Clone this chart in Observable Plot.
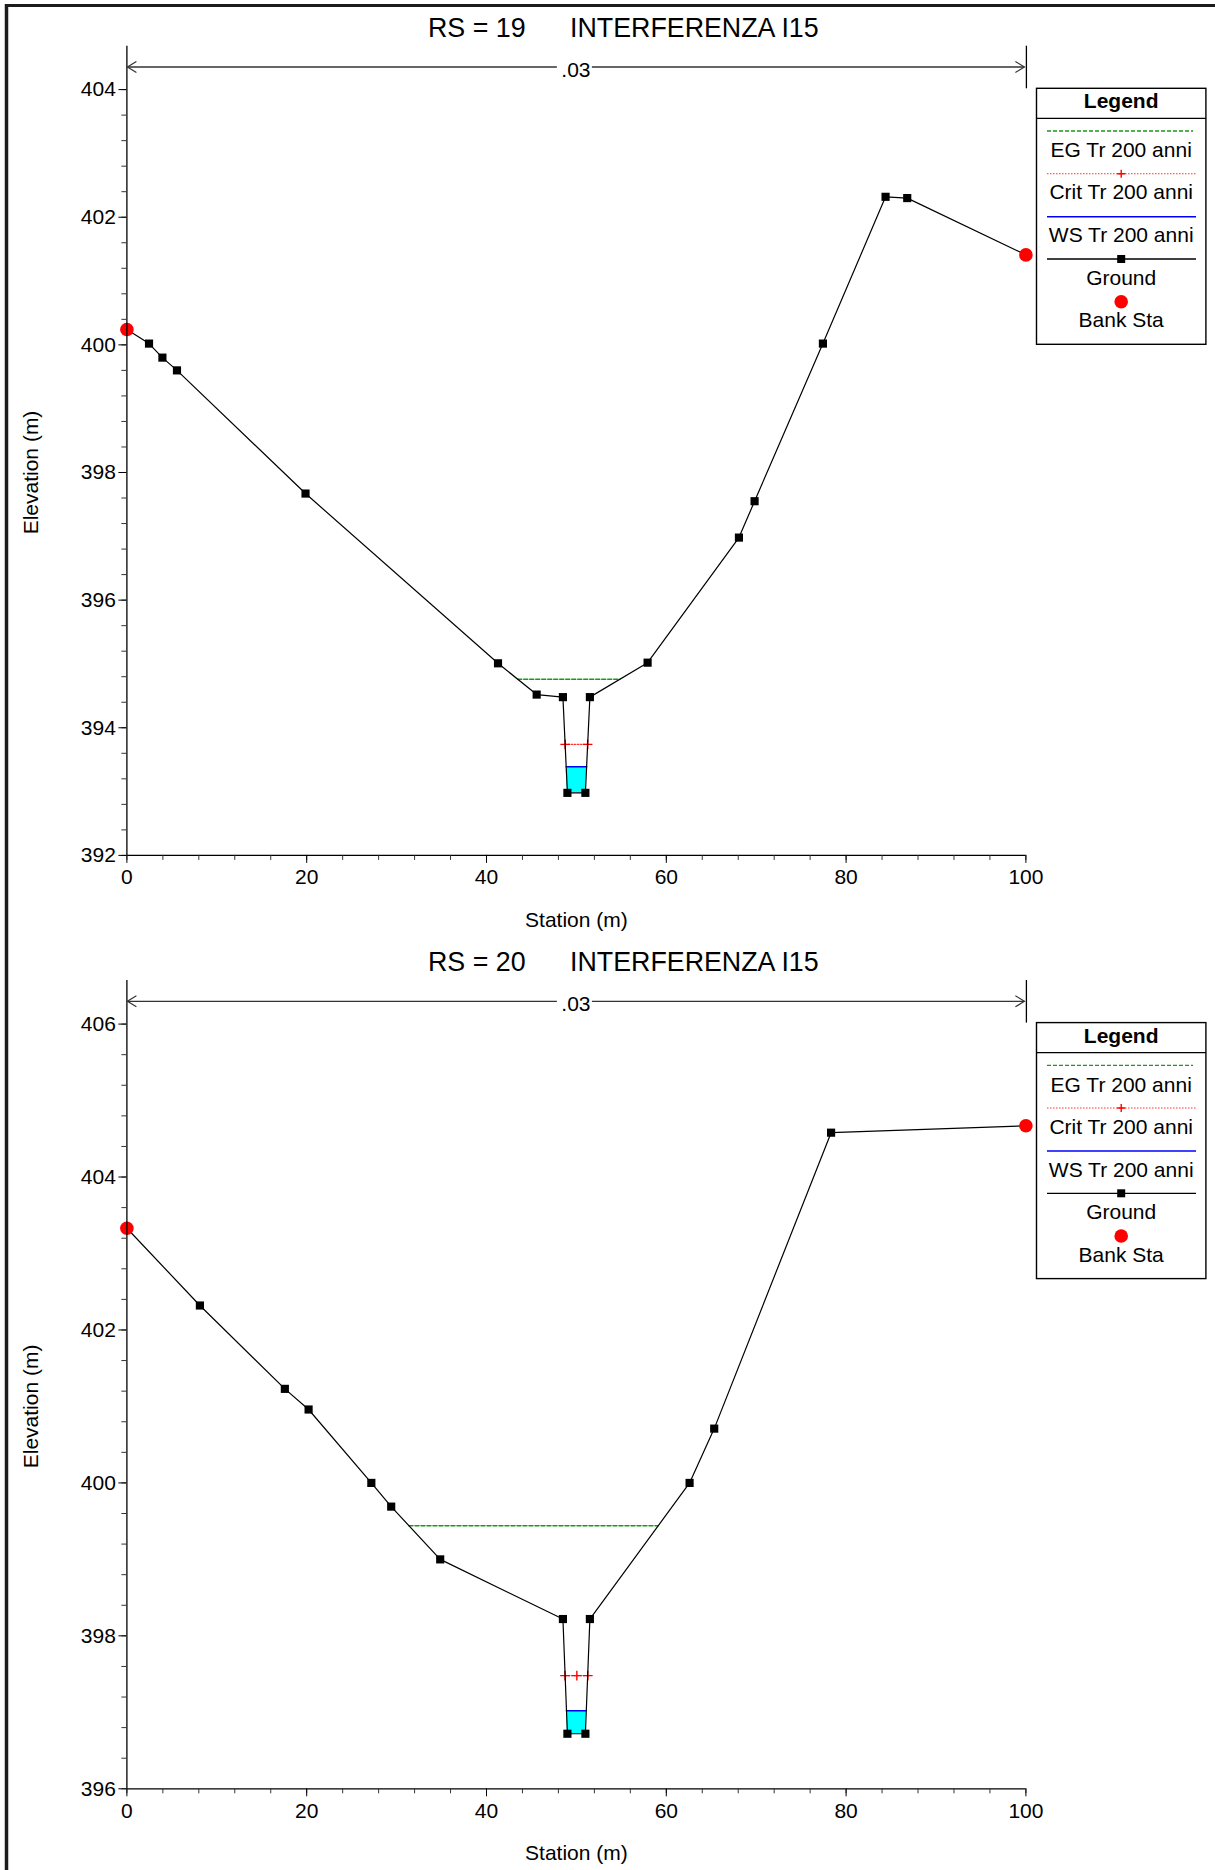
<!DOCTYPE html>
<html>
<head>
<meta charset="utf-8">
<script src="https://cdn.jsdelivr.net/npm/d3@7"></script>
<script src="https://cdn.jsdelivr.net/npm/@observablehq/plot@0.6"></script>
<style>
html, body { margin: 0; padding: 0; background: #fff; }
#page { position: relative; width: 1215px; height: 1870px; overflow: hidden; font-family: "Liberation Sans", Arial, Helvetica, sans-serif; }
.chart { position: absolute; left: 0; }
#overlay { position: absolute; left: 0; top: 0; pointer-events: none; }
</style>
</head>
<body>
<div id="page"></div>
<script>
// ---------------- DATA ----------------
// Cross section RS = 19
const rs19Title = ["RS = 19", "INTERFERENZA I15"];
const rs19Station = [0, 2.46, 3.95, 5.57, 19.87, 41.28, 45.58, 48.5, 49.0, 51.0, 51.5, 57.92, 68.08, 69.82, 77.42, 84.39, 86.8, 100];
const rs19Elev    = [400.24, 400.02, 399.80, 399.60, 397.67, 395.01, 394.52, 394.48, 392.98, 392.98, 394.48, 395.02, 396.98, 397.55, 400.02, 402.32, 402.30, 401.41];
const rs19Bank = [0, 100];
const rs19EG = 394.76;
const rs19Crit = 393.74;
const rs19WS = 393.39;
const rs19CritMarks = [48.75, 51.25];
const rs19YDomain = [392, 404.68];
const rs19YTicks = [392, 394, 396, 398, 400, 402, 404];

// Cross section RS = 20
const rs20Title = ["RS = 20", "INTERFERENZA I15"];
const rs20Station = [0, 8.12, 17.57, 20.21, 27.19, 29.4, 34.85, 48.5, 49.0, 51.0, 51.5, 62.59, 65.33, 78.33, 100];
const rs20Elev    = [403.33, 402.32, 401.23, 400.96, 400.0, 399.69, 399.0, 398.22, 396.72, 396.72, 398.22, 400.0, 400.71, 404.58, 404.67];
const rs20Bank = [0, 100];
const rs20EG = 399.44;
const rs20Crit = 397.48;
const rs20WS = 397.02;
const rs20CritMarks = [48.73, 50.05, 51.27];
const rs20YDomain = [396, 406.57];
const rs20YTicks = [396, 398, 400, 402, 404, 406];

// Shared
const xTicks = [0, 20, 40, 60, 80, 100];
const xDomain = [0, 100];
const nFrom = [0];
const nTo = [100];
const nLabel = [".03"];
const legendLabels = ["EG Tr 200 anni", "Crit Tr 200 anni", "WS Tr 200 anni", "Ground", "Bank Sta"];
const xLabel = "Station (m)";
const yLabel = "Elevation (m)";

// ---------------- STYLE / LAYOUT ----------------
const FONT = '"Liberation Sans", Arial, Helvetica, sans-serif';
const W = 1215;
const EG_COLOR = "#179a17";
const layout = [
  {top: 0,   height: 934, marginTop: 45.7, marginBottom: 79.1},
  {top: 934, height: 936, marginTop: 46,   marginBottom: 81.7}
];
const marginLeft = 126.4, marginRight = 1215 - 1025.4;

const sections = [
  {title: rs19Title, station: rs19Station, elev: rs19Elev, bank: rs19Bank, eg: rs19EG, crit: rs19Crit, ws: rs19WS,
   critMarks: rs19CritMarks, yDomain: rs19YDomain, yTicks: rs19YTicks},
  {title: rs20Title, station: rs20Station, elev: rs20Elev, bank: rs20Bank, eg: rs20EG, crit: rs20Crit, ws: rs20WS,
   critMarks: rs20CritMarks, yDomain: rs20YDomain, yTicks: rs20YTicks}
];

// where a water level meets the ground on each side of the thalweg
function crossings(st, el, level) {
  const k = d3.minIndex(el);
  let i = k; while (i > 0 && el[i - 1] < level) i--;
  let j = k; while (j < el.length - 1 && el[j + 1] < level) j++;
  const xl = i > 0 ? st[i - 1] + (el[i - 1] - level) / (el[i - 1] - el[i]) * (st[i] - st[i - 1]) : st[0];
  const xr = j < el.length - 1 ? st[j] + (level - el[j]) / (el[j + 1] - el[j]) * (st[j + 1] - st[j]) : st[el.length - 1];
  return {xl, xr, i, j};
}

function minorRange(a, b, step) {
  const n = Math.round((b - a) / step);
  return d3.range(n + 1).map(k => +(a + k * step).toFixed(3));
}

function nValueMark() {
  return (index, scales, values, dims) => {
    const x = scales.x;
    const g = d3.create("svg:g");
    const top = dims.marginTop;
    const ya = top + 21.3;
    for (let k = 0; k < nFrom.length; k++) {
      const xa = x(nFrom[k]), xb = x(nTo[k]);
      const xm = (xa + xb) / 2;
      g.append("line").attr("x1", xa + 1).attr("x2", xm - 19).attr("y1", ya).attr("y2", ya)
        .attr("stroke", "#333").attr("stroke-width", 1.3);
      g.append("line").attr("x1", xm + 16).attr("x2", xb - 1).attr("y1", ya).attr("y2", ya)
        .attr("stroke", "#333").attr("stroke-width", 1.3);
      g.append("path").attr("d", `M${xa + 10},${ya - 5.5}L${xa + 1},${ya}L${xa + 10},${ya + 5.5}`)
        .attr("fill", "none").attr("stroke", "#333").attr("stroke-width", 1.2);
      g.append("path").attr("d", `M${xb - 10},${ya - 5.5}L${xb - 1},${ya}L${xb - 10},${ya + 5.5}`)
        .attr("fill", "none").attr("stroke", "#333").attr("stroke-width", 1.2);
      g.append("text").attr("x", xm).attr("y", ya + 9.5).attr("text-anchor", "middle")
        .attr("font-size", 21).attr("font-family", FONT).attr("fill", "#000").text(nLabel[k]);
      g.append("line").attr("x1", xb + 1).attr("x2", xb + 1).attr("y1", top).attr("y2", top + 42.6)
        .attr("stroke", "#000").attr("stroke-width", 1.3);
    }
    return g.node();
  };
}

function makeChart(sec, lay) {
  const ground = sec.station.map((s, i) => ({x: s, y: sec.elev[i]}));
  const bankPts = ground.filter(d => sec.bank.includes(d.x));
  const squares = ground.filter(d => !sec.bank.includes(d.x));
  const w = crossings(sec.station, sec.elev, sec.ws);
  const water = [{x: w.xl, y1: sec.ws, y2: sec.ws}];
  for (let k = w.i; k <= w.j; k++) water.push({x: sec.station[k], y1: sec.elev[k], y2: sec.ws});
  water.push({x: w.xr, y1: sec.ws, y2: sec.ws});
  const eg = crossings(sec.station, sec.elev, sec.eg);
  const cr = crossings(sec.station, sec.elev, sec.crit);
  const yMinor = minorRange(sec.yTicks[0], sec.yTicks[sec.yTicks.length - 1], 0.4);
  const xMinor = minorRange(0, 100, 4);
  const yMid = (sec.yTicks[0] + sec.yTicks[sec.yTicks.length - 1]) / 2;

  return Plot.plot({
    width: W, height: lay.height,
    marginLeft, marginRight, marginTop: lay.marginTop, marginBottom: lay.marginBottom,
    x: {domain: xDomain, axis: null},
    y: {domain: sec.yDomain, axis: null},
    style: {fontFamily: FONT, fontSize: "21px", color: "#000", background: "transparent", overflow: "visible", maxWidth: "none"},
    marks: [
      Plot.areaY(water, {x: "x", y1: "y1", y2: "y2", fill: "#00ffff", curve: "linear"}),
      Plot.line([{x: eg.xl, y: sec.eg}, {x: eg.xr, y: sec.eg}], {x: "x", y: "y", stroke: EG_COLOR, strokeWidth: 1.5, strokeDasharray: "4,2"}),
      Plot.line([{x: cr.xl, y: sec.crit}, {x: cr.xr, y: sec.crit}], {x: "x", y: "y", stroke: "#ff3030", strokeWidth: 1.2, strokeDasharray: "1.5,1.5"}),
      Plot.dot(sec.critMarks.map(s => ({x: s, y: sec.crit})), {x: "x", y: "y", symbol: "plus", r: 3.2, stroke: "red", strokeWidth: 1.4}),
      Plot.line([{x: w.xl, y: sec.ws}, {x: w.xr, y: sec.ws}], {x: "x", y: "y", stroke: "#0000ff", strokeWidth: 1.6}),
      Plot.line(ground, {x: "x", y: "y", stroke: "#000", strokeWidth: 1.2}),
      Plot.dot(squares, {x: "x", y: "y", symbol: "square", r: 4.6, fill: "#000", stroke: "none"}),
      Plot.dot(bankPts, {x: "x", y: "y", r: 6.8, fill: "#ff0000", stroke: "none"}),
      Plot.ruleX([xDomain[0]], {stroke: "#000", strokeWidth: 1.3}),
      Plot.ruleY([sec.yDomain[0]], {stroke: "#000", strokeWidth: 1.3}),
      Plot.axisY({ticks: yMinor, tickSize: 5, tickFormat: () => "", label: null, stroke: "#333"}),
      Plot.axisY({ticks: sec.yTicks, tickSize: 8, tickPadding: 3, label: null, fontSize: 21, tickFormat: d => String(d)}),
      Plot.axisX({ticks: xMinor, tickSize: 5, tickFormat: () => "", label: null, stroke: "#333"}),
      Plot.axisX({ticks: xTicks, tickSize: 8, tickPadding: 6, label: null, fontSize: 21, tickFormat: d => String(d)}),
      Plot.text([xLabel], {frameAnchor: "bottom", lineAnchor: "middle", textAnchor: "middle", dy: 64.5, fontSize: 21, fill: "#000"}),
      Plot.text([{label: yLabel, y: yMid}], {y: "y", text: "label", frameAnchor: "left", textAnchor: "middle", lineAnchor: "middle", dx: -96, rotate: -90, fontSize: 21, fill: "#000"}),
      nValueMark()
    ]
  });
}

const page = document.getElementById("page");
sections.forEach((sec, k) => {
  const lay = layout[k];
  const div = document.createElement("div");
  div.className = "chart";
  div.style.top = lay.top + "px";
  div.appendChild(makeChart(sec, lay));
  page.appendChild(div);
});

// ---------------- OVERLAY: frame, titles, legends ----------------
const ov = d3.select(page).append("svg").attr("id", "overlay")
  .attr("width", W).attr("height", 1870).attr("font-family", FONT);

ov.append("line").attr("x1", 6).attr("x2", W).attr("y1", 5.5).attr("y2", 5.5).attr("stroke", "#1c1c1c").attr("stroke-width", 3);
ov.append("line").attr("x1", 6.5).attr("x2", 6.5).attr("y1", 4).attr("y2", 1870).attr("stroke", "#1c1c1c").attr("stroke-width", 3.5);

sections.forEach((sec, k) => {
  const lay = layout[k];
  const axisTop = lay.top + lay.marginTop;
  // title
  const t = ov.append("text").attr("y", axisTop - 9).attr("font-size", 26.8).attr("fill", "#000");
  t.append("tspan").attr("x", 428).text(sec.title[0]);
  t.append("tspan").attr("x", 570).text(sec.title[1]);

  // legend
  const T = axisTop + 42.6, L = 1036.5, LW = 169.4, LH = 256, cx = L + LW / 2;
  const g = ov.append("g");
  g.append("rect").attr("x", L).attr("y", T).attr("width", LW).attr("height", LH)
    .attr("fill", "#fff").attr("stroke", "#000").attr("stroke-width", 1.4);
  g.append("line").attr("x1", L).attr("x2", L + LW).attr("y1", T + 30).attr("y2", T + 30).attr("stroke", "#000").attr("stroke-width", 1.2);
  g.append("text").attr("x", cx).attr("y", T + 20).attr("text-anchor", "middle").attr("font-size", 21).attr("font-weight", "bold").text("Legend");
  const sx1 = L + 10.5, sx2 = L + 159.5;
  // EG
  g.append("line").attr("x1", sx1).attr("x2", sx2 - 3).attr("y1", T + 42.7).attr("y2", T + 42.7)
    .attr("stroke", EG_COLOR).attr("stroke-width", 1.3).attr("stroke-dasharray", "4,2");
  // Crit
  g.append("line").attr("x1", sx1).attr("x2", sx2).attr("y1", T + 85.4).attr("y2", T + 85.4)
    .attr("stroke", "#ff3030").attr("stroke-width", 1.1).attr("stroke-dasharray", "1.5,1.5");
  g.append("path").attr("d", `M${cx - 4},${T + 85.4}H${cx + 4}M${cx},${T + 81.4}V${T + 89.4}`)
    .attr("stroke", "red").attr("stroke-width", 1.4).attr("fill", "none");
  // WS
  g.append("line").attr("x1", sx1).attr("x2", sx2).attr("y1", T + 128.4).attr("y2", T + 128.4)
    .attr("stroke", "#0000ff").attr("stroke-width", 1.6);
  // Ground
  g.append("line").attr("x1", sx1).attr("x2", sx2).attr("y1", T + 170.7).attr("y2", T + 170.7)
    .attr("stroke", "#000").attr("stroke-width", 1.3);
  g.append("rect").attr("x", cx - 4).attr("y", T + 166.7).attr("width", 8).attr("height", 8).attr("fill", "#000");
  // Bank
  g.append("circle").attr("cx", cx).attr("cy", T + 213.4).attr("r", 6.8).attr("fill", "#ff0000");
  const baselines = [69, 111, 154, 196.7, 239];
  legendLabels.forEach((lab, i) => {
    g.append("text").attr("x", cx).attr("y", T + baselines[i]).attr("text-anchor", "middle")
      .attr("font-size", 21).attr("fill", "#000").text(lab);
  });
});
</script>
</body>
</html>
